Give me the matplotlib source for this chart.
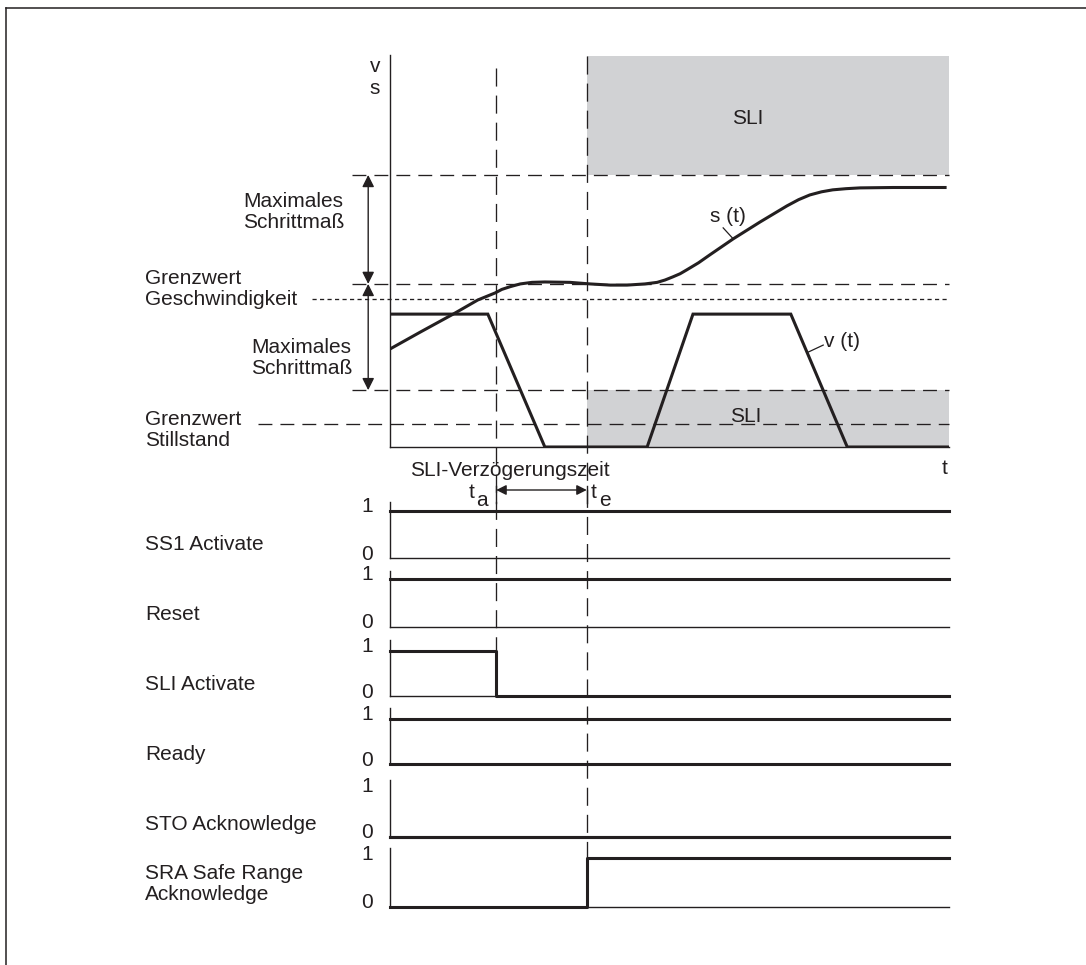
import numpy as np
import matplotlib.pyplot as plt
from matplotlib.transforms import blended_transform_factory, offset_copy

plt.rcParams['font.family'] = ['Liberation Sans', 'DejaVu Sans']
plt.rcParams['lines.scale_dashes'] = False

INK = '#231f20'
GREY = '#d1d2d4'
FS = 15
LS = 1.15

# -------------- Data ----------------
# time axis 0..100, top panel values 0..100 (schematic units)
T_A = 19.0          # SLI activate released
T_E = 35.2          # end of SLI delay

v_t = [0, 17.5, 27.7, 46.0, 54.2, 71.7, 81.8, 100]
v_val = [33.9, 33.9, 0, 0, 33.9, 33.9, 0, 0]

s_t = [0, 5.4, 11.3, 15.7, 18.8, 20.0, 21.5, 23.3, 25.4, 27.7, 32.2, 35.8, 39.4,
       42.4, 45.6, 47.8, 49.2, 50.6, 51.9, 53.1, 55.2, 57.2, 61.4, 66.2, 71.0,
       73.1, 75.1, 77.2, 79.2, 81.6, 84.1, 90.0, 99.3]
s_val = [25.0, 29.3, 33.9, 37.5, 39.3, 40.2, 40.9, 41.6, 42.0, 42.1, 42.0, 41.6,
         41.3, 41.3, 41.6, 42.0, 42.6, 43.4, 44.2, 45.2, 47.0, 49.0, 53.1, 57.4,
         61.5, 63.1, 64.3, 65.1, 65.6, 65.9, 66.1, 66.2, 66.2]

SLI_UPPER = 69.4      # upper SLI window border (s)
S_REF = 41.6          # position at SLI start
V_LIMIT = 37.8        # Grenzwert Geschwindigkeit
SLI_LOWER = 14.5      # lower SLI window (v)
V_STILL = 5.9         # Grenzwert Stillstand
BOX_TOP = 99.7

signal_names = ["SS1 Activate", "Reset", "SLI Activate", "Ready",
                "STO Acknowledge", "SRA Safe Range\nAcknowledge"]
signal_t = [[0, 100], [0, 100], [0, T_A, 100], [0, 100], [0, 100], [0, T_E, 100]]
signal_lvl = [[1, 1], [1, 1], [1, 0, 0], [1, 1], [0, 0], [0, 1, 1]]

# -------------- Layout (pixels) ----------------
W, H = 1086, 965
X0, X1 = 390, 949
TOP_Y0, TOP_Y1 = 447, 55
zero_px = [558, 627, 696, 764, 837, 907]
one_px = [511, 579, 651, 719, 791, 858]
top_px = [502, 571, 640, 708, 780, 848]
label_y = [545, 615, 685, 755, 825, 884]
base_lw = [1.0, 1.0, 1.0, 2.2, 2.2, 1.0]

fig = plt.figure(figsize=(W / 100, H / 100), dpi=100)

ax_ov = fig.add_axes([0, 0, 1, 1], zorder=5)
ax_ov.set_xlim(0, W)
ax_ov.set_ylim(H, 0)
ax_ov.axis('off')

# -------------- Top v/s panel ----------------
ax = fig.add_axes([X0 / W, 1 - TOP_Y0 / H, (X1 - X0) / W, (TOP_Y0 - TOP_Y1) / H])
ax.set_xlim(0, 100)
ax.set_ylim(0, 100)
ax.set_xticks([])
ax.set_yticks([])
for side in ['top', 'right']:
    ax.spines[side].set_visible(False)
for side in ['left', 'bottom']:
    ax.spines[side].set_color(INK)
    ax.spines[side].set_linewidth(1.0)
ax.patch.set_alpha(0)

ax.fill_between([T_E, 100], SLI_UPPER, BOX_TOP, color=GREY, lw=0, zorder=0)
ax.fill_between([T_E, 100], 0, SLI_LOWER, color=GREY, lw=0, zorder=0)

dash = (0, (10, 5.8))
for y, x_from in [(SLI_UPPER, -6.8), (S_REF, -6.8), (SLI_LOWER, -6.8), (V_STILL, -23.6)]:
    ax.plot([x_from, 100], [y, y], color=INK, lw=0.95, linestyle=dash, clip_on=False, zorder=1)
ax.plot([-14.0, 100], [V_LIMIT, V_LIMIT], color=INK, lw=0.95,
        linestyle=(0, (3, 2.4)), clip_on=False, zorder=1)

ax.plot(v_t, v_val, color=INK, lw=2.2, solid_joinstyle='miter', zorder=3)
ax.plot(s_t, s_val, color=INK, lw=2.2, zorder=3)

# double arrows "Maximales Schrittmass"
for a, b in [(SLI_UPPER, S_REF), (S_REF, SLI_LOWER)]:
    ax.annotate('', xy=(-3.9, a), xytext=(-3.9, b), annotation_clip=False,
                arrowprops=dict(arrowstyle='<|-|>', color=INK, lw=1.0,
                                mutation_scale=18, shrinkA=0, shrinkB=0))

ax.plot([59.6, 61.4], [55.9, 53.1], color=INK, lw=0.9)
ax.plot([77.5, 74.8], [26.0, 24.2], color=INK, lw=0.9)
ax.text(60.5, 58.9, 's (t)', fontsize=FS, color=INK, ha='center', va='center')
ax.text(80.9, 27.0, 'v (t)', fontsize=FS, color=INK, ha='center', va='center')
ax.text(64.0, 83.9, 'SLI', fontsize=FS, color=INK, ha='center', va='center')
ax.text(63.7, 7.9, 'SLI', fontsize=FS, color=INK, ha='center', va='center')

# -------------- Signal panels ----------------
for i, name in enumerate(signal_names):
    y0, y1, yt = zero_px[i], one_px[i], top_px[i]
    sax = fig.add_axes([X0 / W, 1 - y0 / H, (X1 - X0) / W, (y0 - yt) / H])
    sax.set_xlim(0, 100)
    sax.set_ylim(0, (y0 - yt) / (y0 - y1))
    sax.set_xticks([])
    sax.set_yticks([])
    sax.patch.set_alpha(0)
    for side in ['top', 'right']:
        sax.spines[side].set_visible(False)
    sax.spines['left'].set_color(INK)
    sax.spines['left'].set_linewidth(1.0)
    sax.spines['bottom'].set_color(INK)
    sax.spines['bottom'].set_linewidth(base_lw[i])
    sax.plot(signal_t[i], signal_lvl[i], drawstyle='steps-post', color=INK,
             lw=2.2, clip_on=False, zorder=3)
    lab_tr = offset_copy(sax.transData, fig=fig, y=4, units='dots')
    sax.text(-4.1, 1, '1', fontsize=FS, color=INK, ha='center', va='center',
             transform=lab_tr, clip_on=False)
    sax.text(-4.1, 0, '0', fontsize=FS, color=INK, ha='center', va='center',
             transform=lab_tr, clip_on=False)
    ax_ov.text(145, label_y[i], name, fontsize=FS, color=INK, ha='left',
               va='center', linespacing=LS)

# -------------- Overlay: time markers, labels, frame ----------------
tr = blended_transform_factory(ax.transData, ax_ov.transData)
vdash = (0, (13, 6.5))
ax_ov.plot([T_A, T_A], [68, 650], color=INK, lw=0.95, linestyle=vdash, transform=tr)
ax_ov.plot([T_E, T_E], [56, 858], color=INK, lw=0.95, linestyle=vdash, transform=tr)

ax_ov.annotate('', xy=(T_A, 490), xytext=(T_E, 490), xycoords=tr, textcoords=tr,
               arrowprops=dict(arrowstyle='<|-|>', color=INK, lw=1.0,
                               mutation_scale=15, shrinkA=0, shrinkB=0))
for tt in [T_A, T_E]:
    ax_ov.plot([tt, tt], [486, 503], color=INK, lw=1.0, transform=tr)

ax_ov.text(510, 471, 'SLI-Verzögerungszeit', fontsize=FS, color=INK, ha='center', va='center')
ax_ov.text(472, 493, 't', fontsize=FS, color=INK, ha='center', va='center')
ax_ov.text(482, 501, 'a', fontsize=FS, color=INK, ha='center', va='center')
ax_ov.text(594, 493, 't', fontsize=FS, color=INK, ha='center', va='center')
ax_ov.text(605, 501, 'e', fontsize=FS, color=INK, ha='center', va='center')

ax_ov.text(375, 67, 'v', fontsize=FS, color=INK, ha='center', va='center')
ax_ov.text(375, 88, 's', fontsize=FS, color=INK, ha='center', va='center')
ax_ov.text(945, 468, 't', fontsize=FS, color=INK, ha='center', va='center')

ax_ov.text(243, 212, 'Maximales\nSchrittmaß', fontsize=FS, color=INK, ha='left',
           va='center', linespacing=LS)
ax_ov.text(251, 358, 'Maximales\nSchrittmaß', fontsize=FS, color=INK, ha='left',
           va='center', linespacing=LS)
ax_ov.text(145, 289, 'Grenzwert\nGeschwindigkeit', fontsize=FS, color=INK, ha='left',
           va='center', linespacing=LS)
ax_ov.text(145, 430, 'Grenzwert\nStillstand', fontsize=FS, color=INK, ha='left',
           va='center', linespacing=LS)

ax_ov.plot([6, W], [8, 8], color=INK, lw=1.1)
ax_ov.plot([6, 6], [8, H], color=INK, lw=1.1)

fig.savefig('out.png', dpi=100)
